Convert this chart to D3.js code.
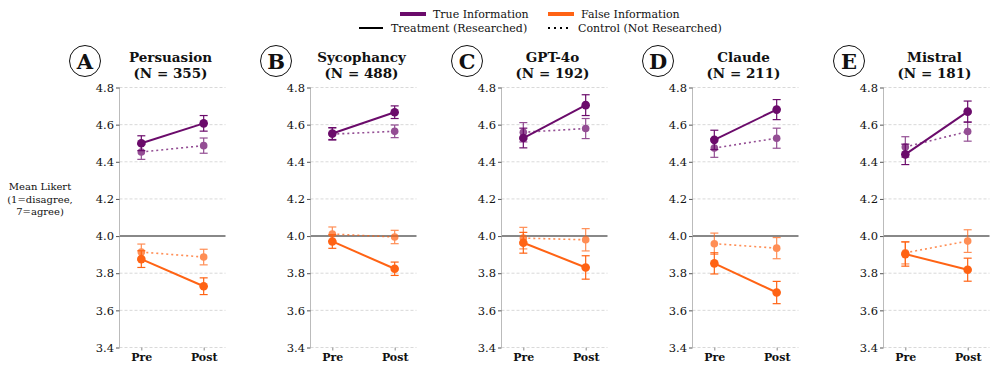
<!DOCTYPE html>
<html>
<head>
<meta charset="utf-8">
<script src="https://cdn.jsdelivr.net/npm/d3@7"></script>
<style>
  body { margin: 0; background: #fff; }
  svg { display: block; }
</style>
</head>
<body>
<div id="chart"></div>
<script>
// panel info
const letters = ["A", "B", "C", "D", "E"];
const titles = ["Persuasion", "Sycophancy", "GPT-4o", "Claude", "Mistral"];
const nValues = [355, 488, 192, 211, 181];
const phases = ["Pre", "Post"];
const yTicks = [3.4, 3.6, 3.8, 4.0, 4.2, 4.4, 4.6, 4.8];

// means [pre, post] per panel
const trueTreat = [[4.50, 4.607], [4.552, 4.667], [4.528, 4.705], [4.518, 4.681], [4.44, 4.67]];
const trueCtrl = [[4.453, 4.487], [4.549, 4.564], [4.559, 4.579], [4.474, 4.527], [4.48, 4.563]];
const falseTreat = [[3.876, 3.73], [3.971, 3.824], [3.964, 3.831], [3.853, 3.696], [3.903, 3.819]];
const falseCtrl = [[3.914, 3.887], [4.011, 3.995], [3.989, 3.98], [3.959, 3.935], [3.91, 3.973]];

// error half-widths [pre, post]
const trueTreatErr = [[0.04, 0.042], [0.032, 0.034], [0.053, 0.056], [0.052, 0.054], [0.055, 0.057]];
const trueCtrlErr = [[0.04, 0.041], [0.033, 0.034], [0.052, 0.054], [0.05, 0.054], [0.055, 0.052]];
const falseTreatErr = [[0.045, 0.045], [0.037, 0.036], [0.056, 0.063], [0.057, 0.06], [0.065, 0.062]];
const falseCtrlErr = [[0.043, 0.042], [0.038, 0.036], [0.058, 0.06], [0.057, 0.057], [0.06, 0.061]];

const purple = "#6b0b6b";
const orange = "#ff6314";
const serif = "'DejaVu Serif', serif";

const width = 996, height = 369;
const svg = d3.select("#chart").append("svg")
    .attr("width", width)
    .attr("height", height)
    .style("font-family", serif);

const plotLeft = 119.5, plotStep = 191, plotWidth = 106;
const plotTop = 87.5, plotBottom = 347.5;

const y = d3.scaleLinear().domain([3.4, 4.8]).range([plotBottom, plotTop]);

function addText(parent, x, yy, str, size, bold, anchor) {
    return parent.append("text")
        .attr("x", x).attr("y", yy)
        .attr("text-anchor", anchor || "start")
        .style("font-family", serif)
        .style("font-size", size + "px")
        .style("font-weight", bold ? "bold" : "normal")
        .attr("fill", "#111")
        .text(str);
}

// legend
const legend = svg.append("g");
legend.append("line").attr("x1", 400).attr("x2", 426).attr("y1", 14).attr("y2", 14)
    .attr("stroke", purple).attr("stroke-width", 4);
addText(legend, 433, 18, "True Information", 11);
legend.append("line").attr("x1", 548).attr("x2", 574).attr("y1", 14).attr("y2", 14)
    .attr("stroke", orange).attr("stroke-width", 4);
addText(legend, 581, 18, "False Information", 11);
legend.append("line").attr("x1", 359).attr("x2", 383).attr("y1", 28).attr("y2", 28)
    .attr("stroke", "#000").attr("stroke-width", 2);
addText(legend, 391, 32, "Treatment (Researched)", 11);
legend.append("line").attr("x1", 548).attr("x2", 570).attr("y1", 28).attr("y2", 28)
    .attr("stroke", "#000").attr("stroke-width", 2).attr("stroke-dasharray", "2,4");
addText(legend, 578, 32, "Control (Not Researched)", 11);

// y label
["Mean Likert", "(1=disagree,", "7=agree)"].forEach((s, i) => {
    addText(svg, 40, 190 + i * 12.5, s, 10, false, "middle");
});

letters.forEach(function(letter, p) {
    const x0 = plotLeft + p * plotStep;
    const g = svg.append("g").attr("transform", `translate(${x0},0)`);

    const x = d3.scalePoint().domain(phases).range([0, plotWidth]).padding(0.35);

    // grid
    g.selectAll(".grid")
        .data(yTicks.filter(d => d !== 4.0))
        .enter()
        .append("line")
        .attr("x1", 0).attr("x2", plotWidth)
        .attr("y1", d => y(d)).attr("y2", d => y(d))
        .attr("stroke", "#cfcfcf")
        .attr("stroke-width", 0.8)
        .attr("stroke-dasharray", "3,2");

    g.append("line")
        .attr("x1", 0).attr("x2", plotWidth)
        .attr("y1", y(4.0)).attr("y2", y(4.0))
        .attr("stroke", "#888").attr("stroke-width", 2);

    // y axis
    const yAxis = g.append("g")
        .call(d3.axisLeft(y).tickValues(yTicks).tickFormat(d3.format(".1f")).tickSize(3.5).tickPadding(2));
    yAxis.attr("font-family", null);
    yAxis.select(".domain").attr("stroke", "#bbb").attr("d", `M0,${plotTop}V${plotBottom}`);
    yAxis.selectAll(".tick line").attr("stroke", "#555");
    yAxis.selectAll("text").style("font-size", "11.5px").style("font-family", serif).attr("fill", "#111");

    // x axis
    const xAxis = g.append("g")
        .attr("transform", `translate(0,${plotBottom})`)
        .call(d3.axisBottom(x).tickSize(3).tickPadding(3));
    xAxis.attr("font-family", null);
    xAxis.select(".domain").remove();
    xAxis.selectAll(".tick line").attr("stroke", "#888");
    xAxis.selectAll("text").style("font-size", "11px").style("font-weight", "bold")
        .style("font-family", serif).attr("fill", "#111");

    // titles
    addText(g, plotWidth / 2 - 2, 62, titles[p], 13.5, true, "middle");
    addText(g, plotWidth / 2 - 2, 78, `(N = ${nValues[p]})`, 13.5, true, "middle");

    g.append("circle").attr("cx", -34.5).attr("cy", 61).attr("r", 15.5)
        .attr("fill", "none").attr("stroke", "#111").attr("stroke-width", 1);
    addText(g, -34.5, 68.5, letter, 21, true, "middle");

    const series = [
        {vals: trueCtrl[p], err: trueCtrlErr[p], color: purple, ctrl: true},
        {vals: falseCtrl[p], err: falseCtrlErr[p], color: orange, ctrl: true},
        {vals: trueTreat[p], err: trueTreatErr[p], color: purple, ctrl: false},
        {vals: falseTreat[p], err: falseTreatErr[p], color: orange, ctrl: false}
    ];

    series.forEach(function(s) {
        const pts = phases.map((ph, i) => ({ph: ph, v: s.vals[i], e: s.err[i]}));
        const sg = g.append("g").attr("opacity", s.ctrl ? 0.72 : 1);

        sg.append("path")
            .datum(pts)
            .attr("fill", "none")
            .attr("stroke", s.color)
            .attr("stroke-width", s.ctrl ? 1.6 : 2)
            .attr("stroke-dasharray", s.ctrl ? "2,3" : null)
            .attr("d", d3.line().x(d => x(d.ph)).y(d => y(d.v)));

        pts.forEach(function(d) {
            const cx = x(d.ph);
            sg.append("line").attr("x1", cx).attr("x2", cx)
                .attr("y1", y(d.v - d.e)).attr("y2", y(d.v + d.e))
                .attr("stroke", s.color).attr("stroke-width", 1.2);
            [d.v - d.e, d.v + d.e].forEach(function(c) {
                sg.append("line").attr("x1", cx - 4).attr("x2", cx + 4)
                    .attr("y1", y(c)).attr("y2", y(c))
                    .attr("stroke", s.color).attr("stroke-width", 1.2);
            });
            sg.append("circle").attr("cx", cx).attr("cy", y(d.v))
                .attr("r", s.ctrl ? 3.8 : 4.3)
                .attr("fill", s.color);
        });
    });
});
</script>
</body>
</html>
